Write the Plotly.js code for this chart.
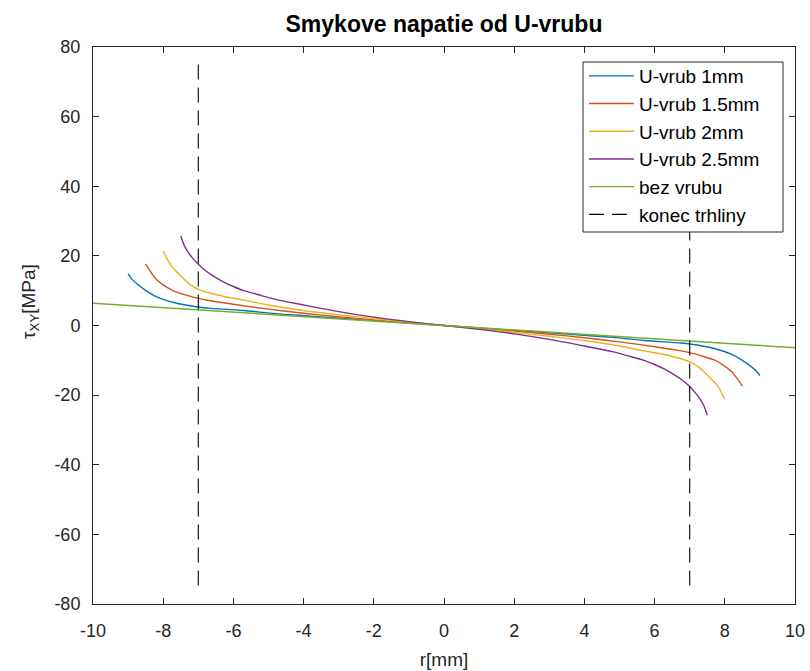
<!DOCTYPE html>
<html>
<head>
<meta charset="utf-8">
<script src="https://cdn.plot.ly/plotly-3.0.1.min.js"></script>
<style>html,body{margin:0;padding:0;background:#fff;}#chart{width:810px;height:671px;}</style>
</head>
<body>
<div id="chart"></div>
<script>
// Values
var x1mm = [-9.0, -8.9, -8.75, -8.5, -8.2, -7.7, -7.0, -6.7, -5.7, -4.8, -3.8, -3.0, -2.0, -1.0, 0, 1.0, 2.0, 3.0, 3.8, 4.8, 5.7, 6.7, 7.0, 7.7, 8.2, 8.5, 8.75, 8.9, 9.0];
var y1mm = [14.8, 13.4, 12.0, 10.1, 8.3, 6.6, 5.3, 5.0, 4.3, 3.4, 2.7, 2.1, 1.4, 0.7, 0, -0.7, -1.4, -2.1, -2.7, -3.4, -4.3, -5.0, -5.3, -6.6, -8.3, -10.0, -11.8, -13.1, -14.4];

var x15mm = [-8.5, -8.35, -8.2, -7.9, -7.7, -7.3, -7.0, -6.7, -6.0, -5.0, -4.0, -3.0, -2.0, -1.0, 0, 1.0, 2.0, 3.0, 4.0, 5.0, 6.0, 6.7, 7.0, 7.3, 7.7, 7.9, 8.2, 8.35, 8.5];
var y15mm = [17.7, 15.3, 13.3, 11.0, 9.9, 8.6, 7.8, 7.2, 6.1, 4.7, 3.5, 2.5, 1.6, 0.8, 0, -0.8, -1.6, -2.5, -3.5, -4.7, -6.1, -7.2, -7.8, -8.6, -9.9, -11.0, -13.3, -15.2, -17.4];

var x2mm = [-8.0, -7.9, -7.8, -7.5, -7.25, -7.0, -6.7, -6.2, -5.7, -5.0, -4.0, -3.0, -2.0, -1.0, 0, 1.0, 2.0, 3.0, 4.0, 5.0, 5.7, 6.2, 6.7, 7.0, 7.25, 7.5, 7.8, 7.9, 8.0];
var y2mm = [21.4, 19.3, 17.6, 14.2, 11.9, 10.4, 9.4, 8.2, 7.3, 5.9, 4.3, 3.1, 2.0, 1.0, 0, -1.0, -2.0, -3.1, -4.3, -5.9, -7.3, -8.2, -9.4, -10.4, -11.9, -14.2, -17.4, -19.2, -21.2];

var x25mm = [-7.5, -7.4, -7.3, -7.15, -7.0, -6.8, -6.6, -6.3, -6.0, -5.7, -5.2, -4.8, -4.0, -3.0, -2.0, -1.0, 0, 1.0, 2.0, 3.0, 4.0, 4.8, 5.2, 5.7, 6.0, 6.3, 6.6, 6.8, 7.0, 7.15, 7.3, 7.4, 7.5];
var y25mm = [25.8, 23.0, 21.2, 19.2, 17.6, 15.8, 14.4, 12.6, 11.2, 10.0, 8.6, 7.5, 5.9, 4.0, 2.4, 1.1, 0, -1.1, -2.4, -4.0, -5.9, -7.5, -8.6, -10.0, -11.2, -12.6, -14.4, -15.8, -17.5, -19.2, -21.2, -23.0, -25.8];

var xBez = [-10, -5, 0, 5, 10];
var yBez = [6.4, 3.2, 0, -3.2, -6.4];

var xKonec = [-7, -7, null, 7, 7];
var yKonec = [75, -75, null, 75, -75];

var names = ["U-vrub 1mm", "U-vrub 1.5mm", "U-vrub 2mm", "U-vrub 2.5mm", "bez vrubu", "konec trhliny"];
var colors = ["#0072BD", "#D95319", "#EDB120", "#7E2F8E", "#77AC30", "#000000"];
var xTicks = [-10, -8, -6, -4, -2, 0, 2, 4, 6, 8, 10];
var yTicks = [-80, -60, -40, -20, 0, 20, 40, 60, 80];

var FONT = "Liberation Sans, Arial, sans-serif";
var AX = "#262626";

// plot area in pixels (for paper-coordinate placement of legend frame / labels)
var PL = 93, PR = 795, PT = 47, PB = 604;
function px2paperX(p) { return (p - PL) / (PR - PL); }
function px2paperY(p) { return (PB - p) / (PB - PT); }

function curve(x, y, i) {
  return {x: x, y: y, name: names[i], type: "scatter", mode: "lines",
          line: {color: colors[i], width: 1.4, shape: "spline", smoothing: 0.8},
          legendgroup: "g" + i};
}

var data = [
  curve(x1mm, y1mm, 0),
  curve(x15mm, y15mm, 1),
  curve(x2mm, y2mm, 2),
  curve(x25mm, y25mm, 3),
  {x: xBez, y: yBez, name: names[4], type: "scatter", mode: "lines",
   line: {color: colors[4], width: 1.4}, legendgroup: "g4"},
  {x: xKonec, y: yKonec, name: names[5], type: "scatter", mode: "lines",
   line: {color: colors[5], width: 1.1, dash: "15px,8px"}, legendgroup: "g5", connectgaps: false}
];

var axisCommon = {
  showgrid: false, zeroline: false, showline: true, mirror: "ticks",
  linecolor: AX, linewidth: 1, ticks: "inside", ticklen: 6, tickcolor: AX, tickwidth: 1,
  tickfont: {family: FONT, size: 18, color: AX}
};

var layout = {
  width: 810, height: 671,
  paper_bgcolor: "#ffffff", plot_bgcolor: "#ffffff",
  margin: {l: PL, r: 810 - PR, t: PT, b: 671 - PB},
  title: {text: "<b>Smykove napatie od U-vrubu</b>", font: {family: FONT, size: 23, color: "#000"},
          x: 0.5, xref: "paper", xanchor: "center", y: 27, yref: "container", yanchor: "middle"},
  xaxis: Object.assign({}, axisCommon, {range: [-10, 10], tickvals: xTicks, ticktext: xTicks.map(String),
          ticklabelstandoff: 10,
          title: {text: "r[mm]", font: {family: FONT, size: 19, color: AX}, standoff: 13}}),
  yaxis: Object.assign({}, axisCommon, {range: [-80, 80], tickvals: yTicks, ticktext: yTicks.map(String),
          ticklabelstandoff: 8}),
  annotations: [{text: "\u03C4<sub>XY</sub>[MPa]", textangle: -90, xref: "paper", yref: "paper",
                 x: px2paperX(30), y: px2paperY(302), xanchor: "center", yanchor: "middle",
                 showarrow: false, font: {family: FONT, size: 19, color: AX}}],
  shapes: [{type: "rect", xref: "paper", yref: "paper", layer: "above",
            x0: px2paperX(583), x1: px2paperX(783), y0: px2paperY(232), y1: px2paperY(62),
            fillcolor: "#ffffff", line: {color: AX, width: 1}}],
  showlegend: true,
  legend: {x: px2paperX(584), xanchor: "left", y: px2paperY(57), yanchor: "top", bgcolor: "rgba(0,0,0,0)",
           borderwidth: 0, font: {family: FONT, size: 19, color: "#000"},
           tracegroupgap: 0, traceorder: "grouped", itemwidth: 45}
};

Plotly.newPlot("chart", data, layout, {displayModeBar: false, staticPlot: true});
</script>
</body>
</html>
